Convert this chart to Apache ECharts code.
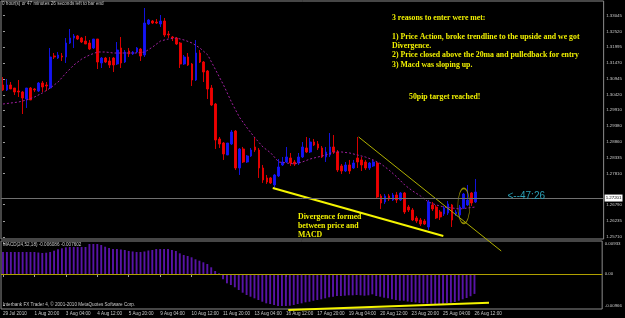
<!DOCTYPE html>
<html><head><meta charset="utf-8">
<script src="https://cdn.jsdelivr.net/npm/echarts@6/dist/echarts.min.js"></script>
<style>html,body{margin:0;padding:0;background:#000;}#c{width:625px;height:318px;}</style>
</head><body><div id="c"></div>
<script>
// ---- data ----
const timeLabels = ["29 Jul 2010","1 Aug 20:00","3 Aug 04:00","4 Aug 12:00","5 Aug 20:00","9 Aug 04:00","10 Aug 12:00","11 Aug 20:00","13 Aug 04:00","16 Aug 12:00","17 Aug 20:00","19 Aug 04:00","20 Aug 12:00","23 Aug 20:00","25 Aug 04:00","26 Aug 12:00"];
const labelEvery = 8;
const slotCount = 153;

const opens = [1.30744,1.30578,1.30744,1.30644,1.30545,1.30512,1.30280,1.30644,1.30611,1.30545,
1.30810,1.30744,1.30644,1.31704,1.31637,1.31704,1.31671,1.32134,1.32300,1.32367,
1.32300,1.32200,1.32134,1.31969,1.32267,1.31472,1.31637,1.31538,1.31637,1.31439,
1.31969,1.31505,1.31869,1.31770,1.31836,1.31935,1.31737,1.32763,1.32863,1.32829,
1.32763,1.32863,1.32432,1.32333,1.32300,1.32134,1.31439,1.31671,1.31439,1.30909,
1.31803,1.31505,1.31207,1.30644,1.30114,1.28956,1.28823,1.28426,1.28790,1.29220,
1.27996,1.28625,1.28194,1.28393,1.28691,1.28591,1.27996,1.27665,1.27665,1.27433,
1.27731,1.28095,1.28194,1.28327,1.28194,1.28161,1.28360,1.28658,1.28525,1.28856,
1.28790,1.28658,1.28360,1.28426,1.28691,1.28525,1.28062,1.27896,1.28095,1.27996,
1.28327,1.28261,1.28194,1.27996,1.28062,1.28161,1.27069,1.26870,1.27069,1.26936,
1.27102,1.26936,1.27168,1.26704,1.26605,1.26340,1.26273,1.26240,1.26041,1.26771,
1.26704,1.26538,1.26472,1.26505,1.26771,1.26472,1.26439,1.26671,1.26771,1.27168,
1.26870];
const closes = [1.30578,1.30744,1.30611,1.30512,1.30512,1.30313,1.30644,1.30247,1.30578,1.30810,
1.30677,1.30711,1.31671,1.31671,1.31737,1.31671,1.32134,1.32300,1.32367,1.32267,
1.32167,1.32101,1.31935,1.32267,1.31505,1.31637,1.31505,1.31406,1.31406,1.31902,
1.31472,1.31836,1.31770,1.31836,1.31969,1.31704,1.32796,1.32896,1.32796,1.32796,
1.32863,1.32399,1.32399,1.32300,1.32101,1.31439,1.31671,1.31406,1.30909,1.31803,
1.31505,1.31174,1.30611,1.30081,1.28922,1.28790,1.28459,1.28823,1.29187,1.27996,
1.28625,1.28194,1.28393,1.28591,1.28591,1.27996,1.27599,1.27532,1.27499,1.27764,
1.28029,1.28194,1.28360,1.28161,1.28128,1.28360,1.28691,1.28525,1.28856,1.28757,
1.28658,1.28360,1.28525,1.28691,1.28525,1.27930,1.27896,1.28095,1.27896,1.28161,
1.28194,1.28095,1.27996,1.28161,1.28194,1.27036,1.26837,1.27069,1.26969,1.27102,
1.26936,1.27168,1.26538,1.26605,1.26273,1.26240,1.26141,1.26141,1.26870,1.26638,
1.26340,1.26373,1.26671,1.26804,1.26273,1.26538,1.26704,1.27135,1.26936,1.26837,
1.27201];
const highs = [1.31008,1.30942,1.30843,1.30644,1.30909,1.30545,1.30644,1.30677,1.30644,1.30843,
1.30876,1.30843,1.31969,1.31803,1.31836,1.31803,1.32300,1.32598,1.32432,1.32399,
1.32333,1.32367,1.32233,1.32267,1.32267,1.31671,1.31671,1.31671,1.31671,1.32167,
1.32333,1.31902,1.31969,1.31869,1.32002,1.31969,1.33293,1.32929,1.32896,1.32929,
1.33061,1.32962,1.32531,1.32367,1.32333,1.32167,1.31737,1.31803,1.31472,1.32233,
1.31902,1.31538,1.31240,1.30744,1.30148,1.29022,1.28856,1.28823,1.29253,1.29253,
1.28658,1.28691,1.28426,1.28658,1.29022,1.28658,1.28095,1.27764,1.27698,1.27797,
1.28294,1.28360,1.28691,1.28492,1.28261,1.28492,1.28856,1.29022,1.28989,1.28956,
1.28889,1.28724,1.28691,1.29154,1.29088,1.28591,1.28128,1.28194,1.28261,1.28261,
1.29022,1.28360,1.28261,1.28194,1.28261,1.28194,1.27135,1.27135,1.27135,1.27168,
1.27201,1.27201,1.27201,1.26771,1.26671,1.26406,1.26340,1.26306,1.26936,1.26870,
1.26771,1.26605,1.26738,1.26903,1.26804,1.26605,1.26771,1.27168,1.27433,1.27201,
1.27632];
const lows = [1.30545,1.30545,1.30611,1.30412,1.30346,1.29783,1.29982,1.30247,1.30512,1.30512,
1.30512,1.30545,1.30611,1.31604,1.31604,1.31538,1.31472,1.32101,1.31969,1.32233,
1.32134,1.32101,1.31902,1.31935,1.31273,1.31306,1.31472,1.31306,1.31174,1.31406,
1.31306,1.31472,1.31671,1.31737,1.31803,1.31538,1.31671,1.32730,1.32763,1.32763,
1.32664,1.32333,1.32300,1.32200,1.32068,1.31306,1.31406,1.31373,1.30711,1.30876,
1.31472,1.30843,1.30280,1.30048,1.28625,1.28658,1.28261,1.28426,1.28757,1.27930,
1.27764,1.28161,1.28161,1.28360,1.28525,1.27665,1.27499,1.27466,1.27466,1.27334,
1.27698,1.28062,1.28161,1.28062,1.28062,1.28095,1.28327,1.28492,1.28492,1.28724,
1.28591,1.28327,1.28194,1.28360,1.28459,1.27863,1.27797,1.27863,1.27797,1.27963,
1.27996,1.27896,1.27930,1.27930,1.28029,1.26969,1.26638,1.26804,1.26903,1.26903,
1.26837,1.26903,1.26472,1.26538,1.26240,1.26174,1.26075,1.26108,1.25942,1.26572,
1.26306,1.26273,1.26406,1.26439,1.26041,1.26406,1.26373,1.26638,1.26738,1.26738,
1.26837];

// 20 MA at every other bar: [bar, price]
const maPoints = [[0,1.30114],[4,1.30181],[6,1.30247],[8,1.30346],[10,1.30479],[12,1.30644],[14,1.30843],[16,1.31141],[18,1.31406],[20,1.31604],[22,1.31737],[24,1.31836],[26,1.31836],[28,1.31803],[30,1.31803],[32,1.31803],[34,1.31803],[36,1.31836],[38,1.32002],[40,1.32200],[42,1.32267],[44,1.32300],[46,1.32233],[48,1.32134],[50,1.31969],[52,1.31737],[54,1.31240],[56,1.30744],[58,1.30181],[60,1.29684],[62,1.29319],[64,1.28989],[66,1.28691],[68,1.28492],[70,1.28194],[72,1.28161],[74,1.28128],[76,1.28194],[78,1.28294],[80,1.28360],[82,1.28426],[84,1.28525],[86,1.28525],[88,1.28492],[90,1.28426],[92,1.28360],[94,1.28261],[96,1.28128],[98,1.27930],[100,1.27698],[102,1.27433],[104,1.27234],[106,1.27069],[108,1.26870],[110,1.26771],[112,1.26704],[114,1.26671],[116,1.26638],[118,1.26671],[120,1.26704]];

const macd = [0.00673,0.00673,0.00673,0.00673,0.00673,0.00673,0.00673,0.00673,0.00673,0.00658,
0.00643,0.00652,0.00673,0.00713,0.00756,0.00786,0.00817,0.00826,0.00826,0.00826,
0.00826,0.00826,0.00918,0.00918,0.00918,0.00887,0.00835,0.00796,0.00765,0.00765,
0.00750,0.00734,0.00704,0.00689,0.00673,0.00673,0.00689,0.00719,0.00734,0.00765,
0.00765,0.00765,0.00765,0.00734,0.00704,0.00633,0.00581,0.00551,0.00511,0.00450,
0.00407,0.00358,0.00306,0.00205,0.00092,0.00021,-0.00162,-0.00285,-0.00337,-0.00407,
-0.00490,-0.00572,-0.00643,-0.00695,-0.00744,-0.00796,-0.00848,-0.00897,-0.00918,-0.00949,
-0.00979,-0.00979,-0.00979,-0.00970,-0.00949,-0.00918,-0.00897,-0.00866,-0.00848,-0.00817,
-0.00796,-0.00774,-0.00744,-0.00713,-0.00695,-0.00673,-0.00673,-0.00664,-0.00652,-0.00652,
-0.00643,-0.00652,-0.00664,-0.00652,-0.00621,-0.00673,-0.00695,-0.00725,-0.00744,-0.00774,
-0.00796,-0.00817,-0.00817,-0.00842,-0.00857,-0.00872,-0.00887,-0.00897,-0.00903,-0.00912,
-0.00918,-0.00918,-0.00918,-0.00887,-0.00878,-0.00857,-0.00817,-0.00774,-0.00734,-0.00680,
-0.00609];

const priceTickLabels = ["1.33045","1.32520","1.31995","1.31470","1.30945","1.30420","1.29910","1.29380","1.28860","1.28335","1.27810","1.26790","1.26235","1.25710"];
const macdTickLabels = ["0.00933","0.00","-0.00966"];
const priceAxisMin = 1.25644, priceAxisMax = 1.33525;
const macdAxisMin = -0.01071, macdAxisMax = 0.0101;

// hand-drawn objects, in [bar, value] space
const trendDown = [[90.3,1.29022],[126.5,1.25247]];
const divPrice = [[68.5,1.27334],[111.8,1.25743]];
const divMacd = [[72.6,-0.01102],[123.7,-0.00878]];
const ellipseAt = [[117.0,1.26738]];

const infoText = "0 hour(s) or 47 minutes 26 seconds left to bar end";
const reasonsLines = ["3 reasons to enter were met:","","1) Price Action, broke trendline to the upside and we got","Divergence.","2) Price closed above the 20ma and pulledback for entry","3) Macd was sloping up."];
const targetText = "50pip target reached!";
const divLines = ["Divergence formed","between price and","MACD"];
const timerText = "<--47:26";
const macdLabel = "MACD(24,52,18) -0.006086 -0.007602";
const copyright = "Interbank FX Trader 4, \u00a9 2001-2010 MetaQuotes Software Corp.";

// ---- build ----
const cats = [];
for (let i = 0; i < slotCount; i++) {
  cats.push(i % labelEvery === 0 && i / labelEvery < timeLabels.length ? timeLabels[i / labelEvery] : '');
}
const candles = opens.map((o, i) => [o, closes[i], lows[i], highs[i]]);
const priceTickValues = priceTickLabels.map(Number);
const macdTickValues = macdTickLabels.map(Number);
function pick(labels, values, v) {
  let b = 0;
  for (let i = 1; i < values.length; i++) if (Math.abs(values[i] - v) < Math.abs(values[b] - v)) b = i;
  return labels[b];
}
const labelInterval = (idx, val) => val !== '';
const small = {color:'#c8c8c8', fontSize:4.6, lineHeight:5, fontWeight:'normal', fontFamily:'Liberation Sans'};
const ann = {color:'#f0f000', fontSize:7.8, lineHeight:9.3, fontWeight:'bold', fontFamily:'Liberation Serif'};
const lastPrice = closes[closes.length - 1];

const chart = echarts.init(document.getElementById('c'), null, {renderer:'canvas'});
chart.setOption({
  backgroundColor:'#000',
  animation:false,
  title:[
    {text:infoText, left:2, top:1.5, padding:0, textStyle:small},
    {text:reasonsLines.join('\n'), left:392, top:13.4, padding:0, textStyle:ann},
    {text:targetText, left:409, top:92.7, padding:0, textStyle:ann},
    {text:divLines.join('\n'), left:298, top:212, padding:0, textStyle:Object.assign({}, ann, {lineHeight:9.2})},
    {text:timerText, left:507.5, top:191, padding:0, textStyle:{color:'#2a9fb5', fontSize:10, lineHeight:11, fontWeight:'normal', fontFamily:'Liberation Sans'}},
    {text:macdLabel, left:3, top:242.5, padding:0, textStyle:small},
    {text:copyright, left:3, top:302.5, padding:0, textStyle:small}
  ],
  grid:[
    {left:1, top:1, width:605, height:238, show:true, borderColor:'#8c8c8c', borderWidth:1, backgroundColor:'transparent'},
    {left:1, top:241, width:605, height:68, show:true, borderColor:'#8c8c8c', borderWidth:1, backgroundColor:'transparent'}
  ],
  xAxis:[
    {type:'category', gridIndex:0, data:cats, boundaryGap:true, axisLine:{show:false}, axisTick:{show:false}, axisLabel:{show:false}, splitLine:{show:false}},
    {type:'value', gridIndex:0, min:-0.5, max:slotCount - 0.5, show:false},
    {type:'category', gridIndex:1, data:cats, boundaryGap:true, axisLine:{show:false},
      axisTick:{show:true, alignWithLabel:true, interval:labelInterval, length:3, lineStyle:{color:'#a0a0a0'}},
      axisLabel:{interval:labelInterval, align:'left', fontSize:4.6, color:'#c8c8c8', margin:2, fontFamily:'Liberation Sans'}, splitLine:{show:false}},
    {type:'value', gridIndex:1, min:-0.5, max:slotCount - 0.5, show:false}
  ],
  yAxis:[
    {type:'value', gridIndex:0, position:'right', min:priceAxisMin, max:priceAxisMax, splitLine:{show:false}, axisLine:{show:false},
      axisTick:{show:true, customValues:priceTickValues, length:2, lineStyle:{color:'#a0a0a0'}},
      axisLabel:{customValues:priceTickValues, formatter:v => pick(priceTickLabels, priceTickValues, v), fontSize:4.4, color:'#c8c8c8', margin:2.5, fontFamily:'Liberation Sans'}},
    {type:'value', gridIndex:1, position:'right', min:macdAxisMin, max:macdAxisMax, splitLine:{show:false}, axisLine:{show:false},
      axisTick:{show:true, customValues:macdTickValues, length:2, lineStyle:{color:'#a0a0a0'}},
      axisLabel:{customValues:macdTickValues, formatter:v => pick(macdTickLabels, macdTickValues, v), fontSize:4.4, color:'#c8c8c8', margin:2.5, fontFamily:'Liberation Sans'}}
  ],
  series:[
    {type:'candlestick', xAxisIndex:0, yAxisIndex:0, data:candles, barWidth:2.2,
      itemStyle:{color:'#1414f5', color0:'#ee0000', borderColor:'#1414f5', borderColor0:'#ee0000', borderWidth:0.9},
      markLine:{silent:true, symbol:['none','none'], data:[{yAxis:lastPrice}],
        lineStyle:{color:'#707070', width:1, type:'solid'},
        label:{show:true, position:'end', distance:1, formatter:() => lastPrice.toFixed(5), backgroundColor:'#ffffff', color:'#000', fontSize:4.4, padding:[1.5,1], fontFamily:'Liberation Sans'}}},
    {type:'line', xAxisIndex:1, yAxisIndex:0, data:maPoints, symbol:'none', lineStyle:{color:'#a020a0', width:1, type:[2,2]}},
    {type:'line', xAxisIndex:1, yAxisIndex:0, data:trendDown, symbol:'none', clip:false, lineStyle:{color:'#b0b000', width:1}},
    {type:'line', xAxisIndex:1, yAxisIndex:0, data:divPrice, symbol:'none', clip:false, lineStyle:{color:'#f4f400', width:2}},
    {type:'scatter', xAxisIndex:1, yAxisIndex:0, data:ellipseAt, symbol:'circle', symbolSize:[12,35],
      itemStyle:{color:'rgba(0,0,0,0)', borderColor:'#b8b000', borderWidth:1}},
    {type:'bar', xAxisIndex:2, yAxisIndex:1, data:macd, barWidth:1.9, itemStyle:{color:'#5814a6'},
      markLine:{silent:true, symbol:['none','none'], data:[{yAxis:0}], lineStyle:{color:'#b0a000', width:1, type:'solid'}, label:{show:false}}},
    {type:'line', xAxisIndex:3, yAxisIndex:1, data:divMacd, symbol:'none', clip:false, lineStyle:{color:'#f4f400', width:2}}
  ]
});
</script>
</body></html>
